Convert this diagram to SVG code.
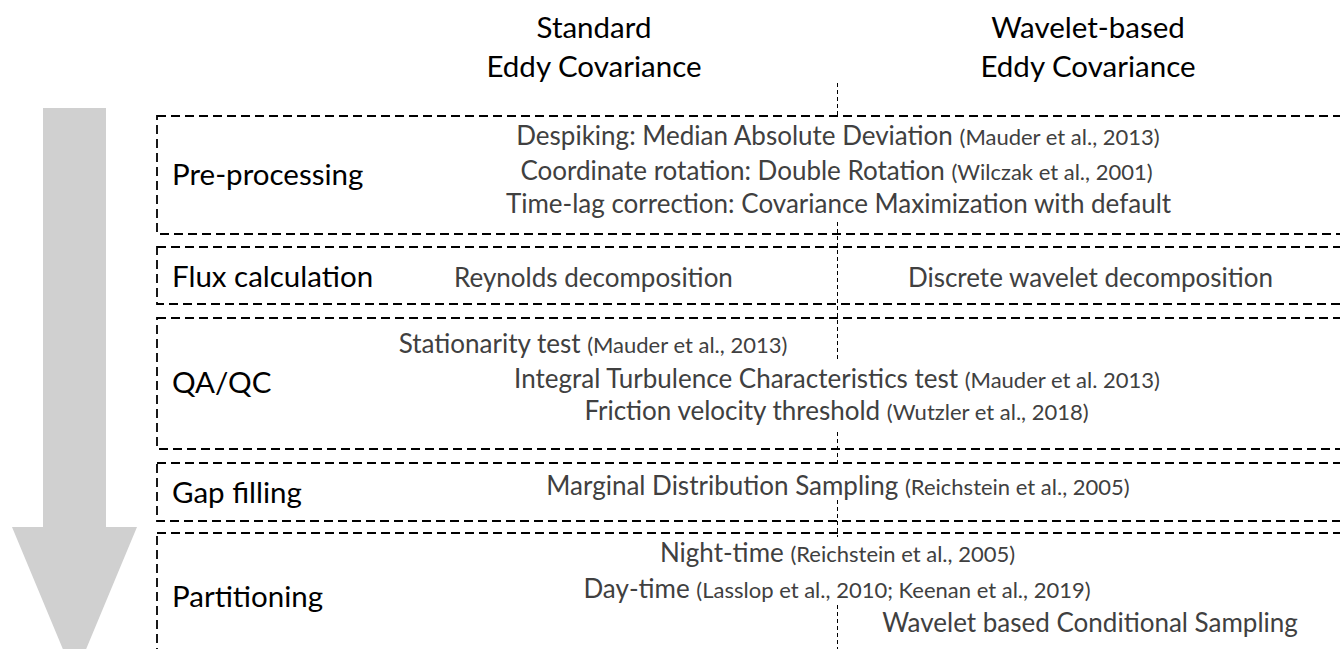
<svg xmlns="http://www.w3.org/2000/svg" width="1340" height="649" viewBox="0 0 1340 649">
<style>
.box{fill:none;stroke:#000;stroke-width:1.8;stroke-dasharray:9 5}
.div{fill:none;stroke:#000;stroke-width:1;stroke-dasharray:4 3}
.hd{font-family:Lato,"Liberation Sans",sans-serif;font-size:29.5px;fill:#000;text-anchor:middle}
.lb{font-family:Lato,"Liberation Sans",sans-serif;font-size:29.5px;fill:#000}
.tx{font-family:Lato,"Liberation Sans",sans-serif;font-size:26px;fill:#404040;text-anchor:middle}
.ct{font-size:22px}
</style>
<rect width="1340" height="649" fill="#fff"/>
<g id="arrow"><polygon points="43,108 106,108 106,527 137,527 74.5,677 12,527 43,527" fill="#d0d0d0"/></g>
<g id="headers">
<text class="hd" x="594" y="38">Standard</text>
<text class="hd" x="594" y="77">Eddy Covariance</text>
<text class="hd" x="1088" y="38">Wavelet-based</text>
<text class="hd" x="1088" y="77">Eddy Covariance</text>
</g>
<g id="connectors">
<line class="div" x1="837.5" y1="83" x2="837.5" y2="118"/>
<line class="div" x1="837.5" y1="222" x2="837.5" y2="359"/>
<line class="div" x1="837.5" y1="432" x2="837.5" y2="465"/>
<line class="div" x1="837.5" y1="500" x2="837.5" y2="537"/>
<line class="div" x1="837.5" y1="605" x2="837.5" y2="649"/>
</g>
<g id="preprocessing">
<rect class="box" x="157" y="116" width="1200" height="118"/>
<text class="lb" x="172" y="185">Pre-processing</text>
<text class="tx" x="838" y="145">Despiking: Median Absolute Deviation <tspan class="ct">(Mauder et al., 2013)</tspan></text>
<text class="tx" x="836.5" y="180">Coordinate rotation: Double Rotation <tspan class="ct">(Wilczak et al., 2001)</tspan></text>
<text class="tx" x="838.5" y="213">Time-lag correction: Covariance Maximization with default</text>
</g>
<g id="flux">
<rect class="box" x="157" y="247" width="1200" height="57"/>
<text class="lb" x="172" y="287">Flux calculation</text>
<text class="tx" x="593.5" y="287">Reynolds decomposition</text>
<text class="tx" x="1090.5" y="287">Discrete wavelet decomposition</text>
</g>
<g id="qaqc">
<rect class="box" x="157" y="318" width="1200" height="131"/>
<text class="lb" x="172" y="393">QA/QC</text>
<text class="tx" x="593" y="353">Stationarity test <tspan class="ct">(Mauder et al., 2013)</tspan></text>
<text class="tx" x="837" y="388">Integral Turbulence Characteristics test <tspan class="ct">(Mauder et al. 2013)</tspan></text>
<text class="tx" x="836.5" y="420">Friction velocity threshold <tspan class="ct">(Wutzler et al., 2018)</tspan></text>
</g>
<g id="gapfilling">
<rect class="box" x="157" y="463" width="1200" height="58"/>
<text class="lb" x="172" y="503">Gap filling</text>
<text class="tx" x="838" y="495">Marginal Distribution Sampling <tspan class="ct">(Reichstein et al., 2005)</tspan></text>
</g>
<g id="partitioning">
<rect class="box" x="157" y="533" width="1200" height="150"/>
<text class="lb" x="172" y="607">Partitioning</text>
<text class="tx" x="837.5" y="562">Night-time <tspan class="ct">(Reichstein et al., 2005)</tspan></text>
<text class="tx" x="837" y="598">Day-time <tspan class="ct">(Lasslop et al., 2010; Keenan et al., 2019)</tspan></text>
<text class="tx" x="1090" y="632">Wavelet based Conditional Sampling</text>
</g>
</svg>
